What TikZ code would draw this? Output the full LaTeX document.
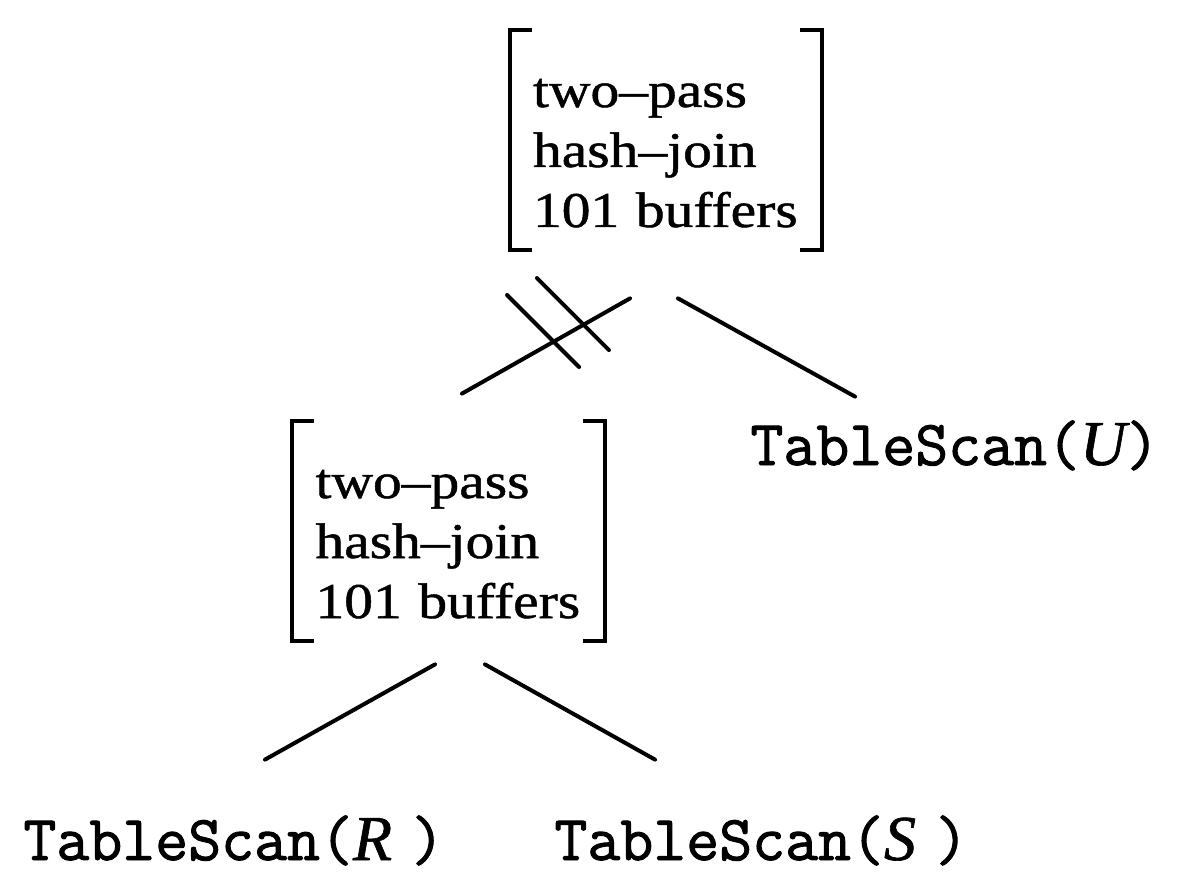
\documentclass[tikz,border=0pt]{standalone}
\usepackage{fontspec}
\setmainfont{Liberation Serif}
\newfontfamily\boxfont{Liberation Serif}[Ligatures=TeX, FakeStretch=1.15, FakeBold=1]
\newfontfamily\scanfont{Latin Modern Mono}[FakeBold=1.5]
\newfontfamily\relfont{Liberation Serif Italic}[FakeBold=1]
\usetikzlibrary{calc}
\newcommand\relvar[1]{{\relfont #1}}

\begin{document}
\begin{tikzpicture}[
  x=0.5pt, y=-0.5pt,
  joinbox/.style={inner xsep=11.5pt, inner ysep=0pt, text width=133pt, align=left,
               text height=38.5pt, text depth=71.5pt,
               font=\boxfont\fontsize{25pt}{30pt}\selectfont},
  scan/.style={inner sep=0pt, anchor=base west, text height=20pt, text depth=6pt,
               font=\scanfont\fontsize{32pt}{36pt}\selectfont},
  brk/.style={line width=2pt},
  edge/.style={line width=2pt, line cap=round}
]
  \useasboundingbox (0,0) rectangle (1186,892);

  % the two joins
  \node[joinbox] (top) at (666,140) {two--pass\\hash--join\\101 buffers};
  \node[joinbox] (low) at (448.5,531) {two--pass\\hash--join\\101 buffers};

  % the three scans
  \node[scan] (scanU) at (750,465) {TableScan(\relvar{U})};
  \node[scan] (scanR) at (23,860) {TableScan(\relvar{R}\hspace{0.3em})};
  \node[scan] (scanS) at (554,860) {TableScan(\relvar{S}\hspace{0.3em})};

  % brackets round each join
  \foreach \n in {top,low} {
    \draw[brk] ([xshift=11pt]\n.north west) -- (\n.north west)
      -- (\n.south west) -- ([xshift=11pt]\n.south west);
    \draw[brk] ([xshift=-11pt]\n.north east) -- (\n.north east)
      -- (\n.south east) -- ([xshift=-11pt]\n.south east);
  }

  % edges
  \draw[edge] ($(top.south)+(-36,48)$) -- coordinate[pos=0.28] (cut1)
    coordinate[pos=0.458] (cut2) ($(low.north)+(13.5,-27)$);
  \draw[edge] ($(top.south)+(12,48)$) -- ($(scanU.north west)+(105,-28)$);
  \draw[edge] ($(low.south)+(-13.5,23)$) -- ($(scanR.north west)+(242,-60)$);
  \draw[edge] ($(low.south)+(36.5,23)$) -- ($(scanS.north west)+(101,-60)$);

  % double stroke on the left edge
  \foreach \c in {cut1,cut2}
    \draw[edge] ($(\c)+(-46,-47)$) -- ($(\c)+(26,25)$);
\end{tikzpicture}
\end{document}
